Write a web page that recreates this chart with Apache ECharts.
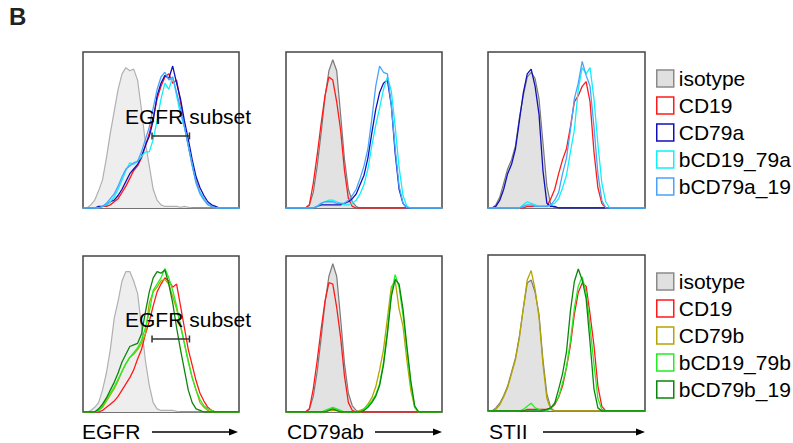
<!DOCTYPE html>
<html>
<head>
<meta charset="utf-8">
<script src="https://cdn.jsdelivr.net/npm/echarts@6/dist/echarts.min.js"></script>
<style>
  html, body { margin: 0; padding: 0; background: #fff; }
  #main { width: 793px; height: 443px; }
</style>
</head>
<body>
<div id="main"></div>
<script>
// histogram counts, 41 bins across each panel (0..40), height in % of panel
// row 1 : EGFR / CD79ab / STII, CD79a constructs
const p1Iso   = [0,0,2,5,11,18,32,48,62,76, 86,90,88,89,82,63,42,27,12,5, 2,1,1,1,1,0.5,1,0.5,0,0, 0,0,0,0,0,0,0,0,0,0, 0];
const p1CD19  = [0,0,0,0,0,1,1,2,4,6, 10,14,19,24,27,32,40,48,58,70, 78,84,86,80,82,68,53,40,28,17, 10,6,3,1,0,0,0,0,0,0, 0];
const p1CD79a = [0,0,0,0,1,1,2,4,5,8, 12,17,22,25,28,33,40,46,56,72, 80,85,83,91,80,70,56,44,31,20, 13,8,4,2,1,0,0,0,0,0, 0];
const p1B1979a = [0,0,0,0,0,1,2,4,7,12, 18,24,29,28,30,33,36,36,44,56, 70,80,76,84,72,60,52,40,28,16, 10,6,3,1,0,0,0,0,0,0, 0];
const p1B79a19 = [0,0,0,0,0,1,3,6,9,14, 20,25,27,29,30,36,44,52,64,76, 84,87,82,84,74,64,52,40,27,16, 9,5,2,1,0,0,0,0,0,0, 0];

const p2Iso   = [0,0,0,0,0,0,2,10,27,48, 71,88,95,88,60,31,12,4,1,0, 0,0,0,0,0,0,0,0,0,0, 0,0,0,0,0,0,0,0,0,0, 0];
const p2CD19  = [0,0,0,0,0,0,2,16,34,54, 72,84,82,68,50,24,6,1,0,0, 0,0,0,0,0,0,0,0,0,0, 0,0,0,0,0,0,0,0,0,0, 0];
const p2CD79a = [0,0,0,0,0,0,0,0,1,2, 2,2,2,2,2,3,4,6,9,15, 21,32,48,63,74,80,82,66,35,12, 3,0,0,0,0,0,0,0,0,0, 0];
const p2B1979a = [0,0,0,0,0,0,0,0,1,3, 4,5,5,4,3,2,2,3,5,9, 15,25,40,53,64,76,84,75,52,26, 8,1,0,0,0,0,0,0,0,0, 0];
const p2B79a19 = [0,0,0,0,0,0,0,0,1,3, 4,4,4,3,3,3,5,8,12,19, 27,38,57,78,91,87,86,66,38,14, 3,0,0,0,0,0,0,0,0,0, 0];

const p3Iso   = [0,0,2,7,16,25,31,40,58,72, 84,87,83,70,42,14,2,0,0,0, 0,0,0,0,0,0,0,0,0,0, 0,0,0,0,0,0,0,0,0,0, 0];
const p3CD19  = [0,0,0,0,0,0,0,0,0,0, 1,1,1,1,1,1,6,12,22,31, 38,52,68,72,78,81,68,36,13,3, 0,0,0,0,0,0,0,0,0,0, 0];
const p3CD79a = [0,0,1,5,12,22,28,38,56,74, 86,89,78,60,24,3,1,1,0,0, 0,0,0,0,0,0,0,0,0,0, 0,0,0,0,0,0,0,0,0,0, 0];
const p3B1979a = [0,0,0,0,0,0,0,0,0,2, 4,3,2,1,1,1,2,3,6,13, 21,36,50,76,90,86,90,70,41,16, 4,0,0,0,0,0,0,0,0,0, 0];
const p3B79a19 = [0,0,0,0,0,0,0,0,0,1, 2,2,1,1,1,1,2,5,10,22, 32,50,70,80,94,85,78,52,22,5, 0,0,0,0,0,0,0,0,0,0, 0];

// row 2 : CD79b constructs
const p4Iso   = [0,0,1,3,6,14,25,40,60,71, 84,90,90,84,76,55,33,17,6,2, 1,1,1,1,0.5,0,0,0,0,0, 0,0,0,0,0,0,0,0,0,0, 0];
const p4CD19  = [0,0,0,0,0,1,3,5,7,10, 14,18,22,27,34,40,50,58,68,77, 82,86,84,80,82,68,54,40,30,20, 12,7,3,1,0,0,0,0,0,0, 0];
const p4CD79b = [0,0,0,0,1,3,7,11,15,20, 26,31,35,37,40,44,50,70,77,80, 84,85,82,74,66,56,44,33,22,14, 6,3,1,0,0,0,0,0,0,0, 0];
const p4B1979b = [0,0,0,0,1,4,8,12,16,21, 26,31,35,38,41,46,54,64,78,82, 86,92,86,78,68,55,44,32,22,14, 8,4,2,1,0,0,0,0,0,0, 0];
const p4B79b19 = [0,0,0,0,2,5,9,14,19,25, 32,37,42,43,44,50,64,77,86,90, 89,91,82,70,54,40,27,14,6,2, 1,0,0,0,0,0,0,0,0,0, 0];

const p5Iso   = [0,0,0,0,0,0,2,10,26,47, 70,87,95,87,60,31,12,4,1,0, 0,0,0,0,0,0,0,0,0,0, 0,0,0,0,0,0,0,0,0,0, 0];
const p5CD19  = [0,0,0,0,0,0,2,15,33,53, 71,83,82,67,48,23,6,1,0,0, 0,0,0,0,0,0,0,0,0,0, 0,0,0,0,0,0,0,0,0,0, 0];
const p5CD79b = [0,0,0,0,0,0,0,0,0,0, 0,1,1,1,0,0,0,0,0,1, 2,5,9,16,27,40,60,80,84,66, 55,33,14,3,0,0,0,0,0,0, 0];
const p5B1979b = [0,0,0,0,0,0,0,0,0,0, 1,2,3,2,1,0,0,0,0,0, 2,4,7,11,18,32,52,76,88,80, 62,40,18,3,0,0,0,0,0,0, 0];
const p5B79b19 = [0,0,0,0,0,0,0,0,0,0, 0,1,2,1,0,0,0,0,0,0, 1,3,6,10,17,30,50,74,85,82, 66,42,20,4,0,0,0,0,0,0, 0];

const p6Iso   = [0,0,2,5,10,16,25,34,48,66, 82,84,76,62,33,11,2,0,0,0, 0,0,0,0,0,0,0,0,0,0, 0,0,0,0,0,0,0,0,0,0, 0];
const p6CD19  = [0,0,0,0,0,0,0,0,0,0, 1,1,1,1,1,1,2,4,9,16, 28,42,62,76,82,80,62,42,16,3, 0,0,0,0,0,0,0,0,0,0, 0];
const p6CD79b = [0,0,1,4,9,15,24,33,47,66, 84,90,78,60,30,8,1,0,0,0, 0,0,0,0,0,0,0,0,0,0, 0,0,0,0,0,0,0,0,0,0, 0];
const p6B1979b = [0,0,0,0,0,0,0,0,0,1, 3,5,2,1,0,0,2,5,9,18, 28,45,66,80,86,76,54,30,8,1, 0,0,0,0,0,0,0,0,0,0, 0];
const p6B79b19 = [0,0,0,0,0,0,0,0,0,0, 0,0,0,0,0,1,2,5,14,24, 38,64,83,91,84,72,44,14,2,0, 0,0,0,0,0,0,0,0,0,0, 0];

const legendTop = ['isotype', 'CD19', 'CD79a', 'bCD19_79a', 'bCD79a_19'];
const legendBottom = ['isotype', 'CD19', 'CD79b', 'bCD19_79b', 'bCD79b_19'];
const axisNames = ['EGFR', 'CD79ab', 'STII'];
// EGFR subset gate: [from, to, height]
const gateTop = [[17.7, 27.3, 46.2]];
const gateBottom = [[17.7, 27.3, 46.8]];

const panels = [
  { iso: p1Iso, curves: [p1CD19, p1CD79a, p1B1979a, p1B79a19], names: legendTop },
  { iso: p2Iso, curves: [p2CD19, p2CD79a, p2B1979a, p2B79a19], names: legendTop },
  { iso: p3Iso, curves: [p3CD19, p3CD79a, p3B1979a, p3B79a19], names: legendTop },
  { iso: p4Iso, curves: [p4CD19, p4CD79b, p4B1979b, p4B79b19], names: legendBottom },
  { iso: p5Iso, curves: [p5CD19, p5CD79b, p5B1979b, p5B79b19], names: legendBottom },
  { iso: p6Iso, curves: [p6CD19, p6CD79b, p6B1979b, p6B79b19], names: legendBottom }
];

const colors = {
  'isotype': '#8a8a8a',
  'CD19': '#ff1a1a',
  'CD79a': '#1010b8',
  'bCD19_79a': '#10f0f8',
  'bCD79a_19': '#4aa2ff',
  'CD79b': '#b5a500',
  'bCD19_79b': '#22ee22',
  'bCD79b_19': '#0a870a'
};

const FONT = '"Liberation Sans", Arial, Helvetica, sans-serif';

const gridPos = [
  { left: 83, top: 52, width: 156 },
  { left: 286, top: 52, width: 156 },
  { left: 488, top: 52, width: 157 },
  { left: 83, top: 256, width: 156 },
  { left: 286, top: 256, width: 156 },
  { left: 488, top: 255, width: 157 }
];

const grid = gridPos.map(g => ({
  left: g.left, top: g.top, width: g.width, height: 156,
  show: true, borderColor: '#444', borderWidth: 1.5, backgroundColor: '#fff'
}));
const xAxis = gridPos.map((g, i) => ({ type: 'value', gridIndex: i, min: 0, max: 40, show: false }));
const yAxis = gridPos.map((g, i) => ({ type: 'value', gridIndex: i, min: 0, max: 100, show: false }));

const toXY = ys => ys.map((v, i) => [i, v]);

const series = [];
panels.forEach((p, k) => {
  const egfr = (k === 0 || k === 3);
  series.push({
    name: 'isotype', type: 'line', xAxisIndex: k, yAxisIndex: k,
    data: toXY(p.iso), showSymbol: false, silent: true,
    lineStyle: { color: egfr ? '#b0b0b0' : '#7a7a7a', width: 1.2 },
    itemStyle: { color: egfr ? '#b0b0b0' : '#7a7a7a' },
    areaStyle: { color: egfr ? '#eeeeee' : '#e2e2e2', opacity: 1 }
  });
  p.curves.forEach((ys, j) => {
    const name = p.names[j + 1];
    series.push({
      name: name, type: 'line', xAxisIndex: k, yAxisIndex: k,
      data: toXY(ys), showSymbol: false, silent: true,
      lineStyle: { color: colors[name], width: 1.3 },
      itemStyle: { color: colors[name] }
    });
  });
});

function gateItem(params, api) {
  const a = api.coord([api.value(0), api.value(2)]);
  const b = api.coord([api.value(1), api.value(2)]);
  const st = { stroke: '#333', lineWidth: 1.5 };
  return {
    type: 'group',
    children: [
      { type: 'line', shape: { x1: a[0], y1: a[1], x2: b[0], y2: b[1] }, style: st },
      { type: 'line', shape: { x1: a[0], y1: a[1] - 3.5, x2: a[0], y2: a[1] + 3.5 }, style: st },
      { type: 'line', shape: { x1: b[0], y1: b[1] - 3.5, x2: b[0], y2: b[1] + 3.5 }, style: st },
      {
        type: 'text', x: a[0] - 27, y: a[1] - 19,
        style: { text: 'EGFR subset', fill: '#000', fontSize: 21, fontFamily: FONT, verticalAlign: 'middle', align: 'left' }
      }
    ]
  };
}
series.push({ type: 'custom', xAxisIndex: 0, yAxisIndex: 0, data: gateTop, renderItem: gateItem, silent: true, z: 5 });
series.push({ type: 'custom', xAxisIndex: 3, yAxisIndex: 3, data: gateBottom, renderItem: gateItem, silent: true, z: 5 });

function legendData(names) {
  return names.map(n => ({
    name: n,
    icon: 'rect',
    itemStyle: {
      color: n === 'isotype' ? '#e0e0e0' : '#ffffff',
      borderColor: colors[n],
      borderWidth: 1.5
    }
  }));
}
const legendBase = {
  orient: 'vertical', left: 656, itemWidth: 17, itemHeight: 17, itemGap: 6,
  padding: 0, selectedMode: false,
  textStyle: { fontSize: 21, color: '#000', fontFamily: FONT, lineHeight: 17 }
};

// axis labels with arrows under the bottom row
const labelX = [82, 287, 489];
const arrowX = [[152, 238], [375, 442], [543, 645]];
const graphic = [
  { type: 'text', left: 9, top: 4, style: { text: 'B', fontSize: 24, fontWeight: 'bold', fill: '#222', fontFamily: FONT } }
];
axisNames.forEach((t, i) => {
  graphic.push({ type: 'text', x: labelX[i], y: 431, style: { text: t, fontSize: 21, fill: '#000', fontFamily: FONT, verticalAlign: 'middle' } });
  const [x1, x2] = arrowX[i];
  graphic.push({ type: 'line', shape: { x1: x1, y1: 432, x2: x2 - 6, y2: 432 }, style: { stroke: '#000', lineWidth: 1.5 } });
  graphic.push({ type: 'polygon', shape: { points: [[x2, 432], [x2 - 9, 428.5], [x2 - 9, 435.5]] }, style: { fill: '#000' } });
});

const chart = echarts.init(document.getElementById('main'), null, { renderer: 'svg' });
chart.setOption({
  animation: false,
  backgroundColor: '#fff',
  grid: grid,
  xAxis: xAxis,
  yAxis: yAxis,
  legend: [
    Object.assign({}, legendBase, { top: 68, data: legendData(legendTop) }),
    Object.assign({}, legendBase, { top: 271, data: legendData(legendBottom) })
  ],
  graphic: graphic,
  series: series
});
</script>
</body>
</html>
